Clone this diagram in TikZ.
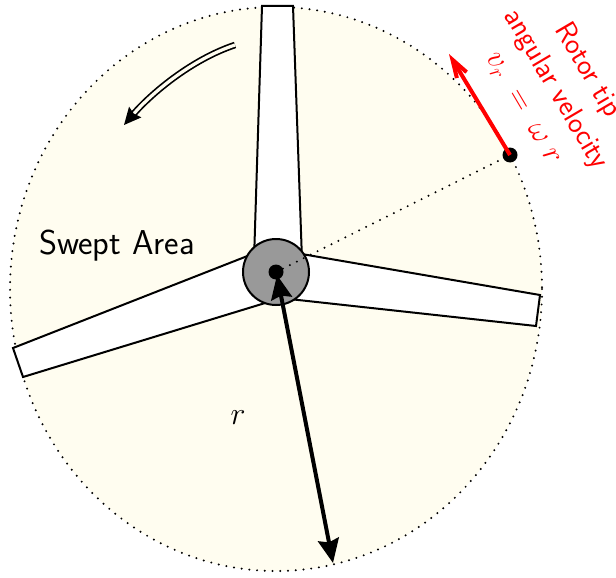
\RequirePackage{fix-cm}
\documentclass[tikz,border=0pt]{standalone}
\usepackage{fontspec}
\usepackage{amsmath}
\usetikzlibrary{arrows.meta,calc}
\definecolor{swept}{HTML}{FFFDF0}
\definecolor{hubgray}{gray}{0.6}
\tikzset{
  bladeshape/.style={draw=black,fill=white,line width=2pt,line join=miter},
  dotline/.style={line width=2.2pt,line cap=round,dash pattern=on 0pt off 7.75pt},
  lab/.style={inner sep=0pt,font=\sffamily\fontsize{34.5}{34.5}\selectfont},
  redlab/.style={inner sep=0pt,text=red,rotate=-59.5,align=center,font=\sffamily\fontsize{29.5}{37}\selectfont}
}
\begin{document}
\begin{tikzpicture}[x=1pt,y=-1pt]
\useasboundingbox (0,0) rectangle (616,578);
\fill[swept] (276,289) ellipse [x radius=266,y radius=282];
\draw[dotline] (276,289) ellipse [x radius=266,y radius=282];
\draw[bladeshape] (262,6) -- (293,6) -- (302,260) -- (254,260) -- cycle;
\draw[bladeshape] (540,295) -- (536,326) -- (280,298) -- (290,252) -- cycle;
\draw[bladeshape] (13,348) -- (23,377) -- (275,300) -- (250,255) -- cycle;
\node[circle,draw=black,fill=hubgray,line width=2pt,minimum size=66pt,inner sep=0pt] (hub) at (276,272) {};
\node[circle,fill=black,minimum size=15pt,inner sep=0pt] (c) at (276,272) {};
\node[circle,fill=black,minimum size=15pt,inner sep=0pt] (tipdot) at (510,155) {};
\draw[dotline] (c.center) -- (tipdot.center);
\coordinate (rtip) at (333,563);
\coordinate (rstart) at (277,275);
\draw[line width=4pt,{Stealth[length=24pt,width=21pt,inset=3pt]}-{Stealth[length=24pt,width=21pt,inset=3pt]}] (rstart) -- (rtip);
\coordinate (vtip) at (449,54);
\draw[red,line width=4pt,-{Straight Barb[length=18pt,width=22pt,angle'=35]}] (tipdot.center) -- (vtip);
\coordinate (sa) at (235,45);
\coordinate (sb) at (124,125);
\draw[line width=1.7pt,double=swept,double distance=3.2pt,-{Stealth[length=17pt,width=16pt,inset=2pt]}] (sa) .. controls (190,60) and (150,95) .. (sb);
\node[lab] (swept) at (117,246) {Swept Area};
\node[inner sep=0pt,font=\fontsize{32}{32}\selectfont] (r) at (238,418) {$r$};
\node[redlab] (rt) at (556,89) {Rotor tip\\angular velocity\\{\fontsize{31}{37}\selectfont $v_r\;=\;\omega\;r$}};
\end{tikzpicture}
\end{document}
